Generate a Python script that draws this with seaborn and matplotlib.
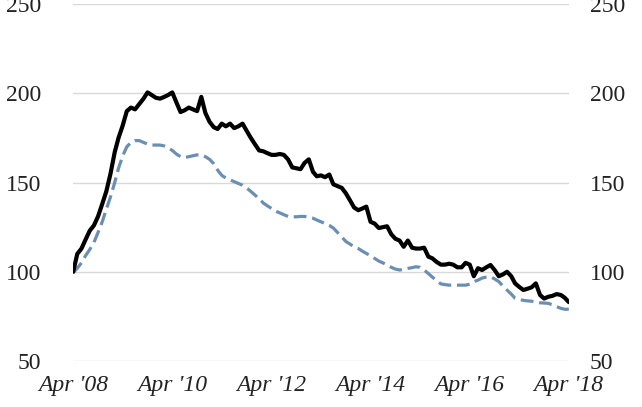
import seaborn as sns
import matplotlib.pyplot as plt
import pandas as pd

# monthly index values, Apr 2008 = 100
black_vals = [
    100, 110, 113, 118, 123, 126, 131, 138, 145, 155,
    167, 175, 182, 190, 192, 191, 194, 197, 200.5, 199,
    197.5, 197, 198, 199, 200.5, 195, 189.5, 190.5, 192, 191,
    190, 198, 189, 184, 181, 180, 183, 181.5, 183, 180.5,
    181.5, 183, 179, 175, 171.5, 168, 167.5, 166.5, 165.5, 165.5,
    166, 165.5, 163, 158.5, 158, 157.5, 161, 163, 156, 153.5,
    154, 153, 154.5, 149, 148, 147, 144, 140, 136, 134.5,
    135.5, 136.5, 128, 127, 124.5, 125, 125.5, 121, 118.5, 117.5,
    114, 117.5, 113.5, 113, 113, 113.5, 108.5, 107.5, 105.5, 104,
    104, 104.5, 104, 102.5, 102.5, 105, 104, 97.5, 102, 101,
    102.5, 103.8, 101, 97.5, 98.5, 100, 97.5, 93.5, 91.5, 89.8,
    90.5, 91.3, 93.5, 87, 85, 86, 86.5, 87.5, 87, 85.5,
    83,
]
blue_vals = [
    99.5, 102, 105, 109, 112.5, 116.5, 122, 128, 135, 142,
    150, 158, 165, 170, 172.5, 173.5, 173.5, 172.5, 171.5, 171,
    171, 171, 170.5, 169.5, 168, 166, 164.5, 164, 164.5, 165,
    165.5, 165.5, 164.5, 163, 160.5, 157, 154, 152.5, 151.5, 150.5,
    149.5, 148.5, 147, 145, 143, 141, 138.5, 137, 135.5, 134,
    133, 132, 131, 130.8, 130.8, 131, 131, 130.5, 130, 129,
    128, 127, 126, 124.5, 122, 119.5, 117, 115.5, 114, 113,
    111.5, 110.3, 109, 107.5, 106, 105, 103.8, 102.5, 101.5, 101,
    101.3, 101.9, 102.3, 102.8, 102.5, 101, 99, 97, 95, 93.2,
    92.8, 92.5, 92.5, 92.5, 92.5, 92.5, 93, 94.5, 95.3, 96.5,
    97, 97.2, 96, 94.5, 92, 89.7, 87.5, 85.2, 84.5, 84,
    83.7, 83.5, 83, 82.6, 82.5, 82.3, 81.5, 80.5, 79.5, 79,
    79,
]
dates = pd.date_range("2008-04-01", periods=len(black_vals), freq="MS")
tick_dates = pd.date_range("2008-04-01", "2018-04-01", freq="24MS")
tick_labels = ["Apr '08", "Apr '10", "Apr '12", "Apr '14", "Apr '16", "Apr '18"]
y_ticks = [50, 100, 150, 200, 250]

df = pd.DataFrame({"date": dates, "black": black_vals, "blue": blue_vals})

sns.set_theme(style="white")
plt.rcParams["font.family"] = ["Liberation Serif", "DejaVu Serif"]

fig = plt.figure(figsize=(6.42, 4.07), dpi=100)
ax = fig.add_axes([0.114, 0.113, 0.772, 0.877])

sns.lineplot(data=df, x="date", y="blue", ax=ax, color="#6B8FB2",
             linewidth=2.3, linestyle=(0, (4, 1.8)))
sns.lineplot(data=df, x="date", y="black", ax=ax, color="black",
             linewidth=3.0)

ax.set_xlim(dates[0], dates[-1])
ax.set_ylim(50, 250)
ax.set_yticks(y_ticks)
ax.set_xticks(tick_dates)
ax.set_xticklabels(tick_labels, fontstyle="italic")
ax.set_xlabel("")
ax.set_ylabel("")

ax.grid(axis="y", color="#D9D9D9", linewidth=1.0)
ax.grid(axis="x", visible=False)
ax.set_axisbelow(True)
for s in ax.spines.values():
    s.set_visible(False)

ax.tick_params(axis="y", length=0, pad=23, labelsize=17, labelcolor="#222222")
ax.tick_params(axis="x", length=0, pad=10, labelsize=17, labelcolor="#222222")

# right-hand copy of the y axis
ax2 = ax.twinx()
ax2.set_ylim(50, 250)
ax2.set_yticks(y_ticks)
ax2.grid(False)
for s in ax2.spines.values():
    s.set_visible(False)
ax2.tick_params(axis="y", length=0, pad=15, labelsize=17, labelcolor="#222222")

fig.savefig("out.png", dpi=100)
